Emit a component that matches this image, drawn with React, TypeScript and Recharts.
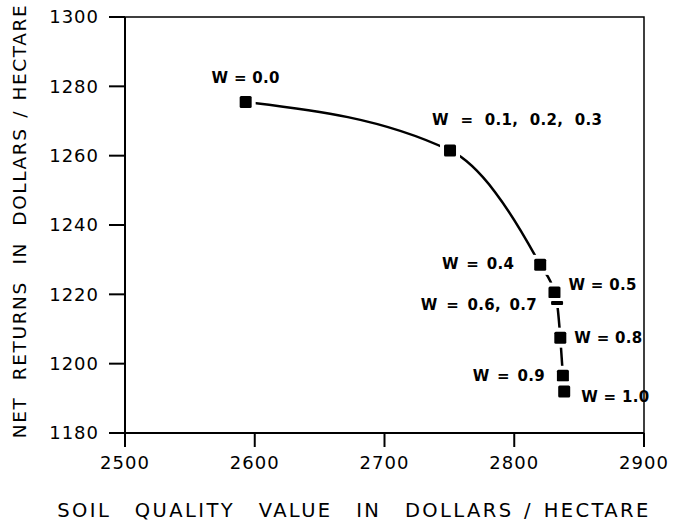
import React from "react";
import {
  ComposedChart, Line, XAxis, YAxis, ReferenceArea, LabelList,
} from "recharts";

// values
const W_LABELS = [
  "W = 0.0", "W = 0.1, 0.2, 0.3", "W = 0.4", "W = 0.5",
  "W = 0.6, 0.7", "W = 0.8", "W = 0.9", "W = 1.0",
];
const SOIL_VALUE = [2593, 2750.5, 2820, 2831, 2833, 2835.5, 2837.5, 2838.5];
const NET_RETURNS = [1275.5, 1261.5, 1228.5, 1220.5, 1217.5, 1207.5, 1196.5, 1192];
const X_TICKS = [2500, 2600, 2700, 2800, 2900];
const Y_TICKS = [1180, 1200, 1220, 1240, 1260, 1280, 1300];

// where each annotation sits relative to its point
const LABEL_OFFSET: { dx: number; dy: number; anchor: "start" | "middle" | "end"; ws: number }[] = [
  { dx: 0, dy: -24, anchor: "middle", ws: 0 },
  { dx: -18, dy: -30, anchor: "start", ws: 6 },
  { dx: -26, dy: -1, anchor: "end", ws: 2 },
  { dx: 14, dy: -8, anchor: "start", ws: 0 },
  { dx: -20, dy: 2, anchor: "end", ws: 3 },
  { dx: 14, dy: 0, anchor: "start", ws: 0 },
  { dx: -18, dy: 0, anchor: "end", ws: 2 },
  { dx: 17, dy: 6, anchor: "start", ws: 0 },
];

const FONT = "'DejaVu Sans', sans-serif";

const data = SOIL_VALUE.map((x, i) => ({ x, y: NET_RETURNS[i], w: W_LABELS[i] }));

function Marker(props: any) {
  const { cx, cy, index } = props;
  if (cx == null || cy == null) return <g key={`m-${index}`} />;
  // W = 0.6, 0.7 is drawn as a small dash in the original
  if (W_LABELS[index].includes("0.6")) {
    return (
      <g key={`m-${index}`}>
        <rect x={cx - 9} y={cy - 5} width={18} height={10} fill="#fff" />
        <rect x={cx - 6} y={cy - 2} width={12} height={4} rx={1} fill="#000" />
      </g>
    );
  }
  return (
    <g key={`m-${index}`}>
      <rect x={cx - 10} y={cy - 10} width={20} height={20} fill="#fff" />
      <rect x={cx - 6} y={cy - 6} width={12} height={12} rx={1.5} fill="#000" />
    </g>
  );
}

function PointLabel(props: any) {
  const { x, y, index, value } = props;
  const o = LABEL_OFFSET[index];
  return (
    <text
      x={x + o.dx}
      y={y + o.dy}
      textAnchor={o.anchor}
      dominantBaseline="central"
      fontFamily={FONT}
      fontSize={15}
      fontWeight={600}
      letterSpacing={0.3}
      wordSpacing={o.ws}
      fill="#000"
    >
      {value}
    </text>
  );
}

export default function App() {
  const tick = { fontFamily: FONT, fontSize: 18, fill: "#000", letterSpacing: 1 };
  return (
    <div style={{ position: "absolute", left: 0, top: 0, background: "#fff" }}>
      <ComposedChart
        width={674}
        height={524}
        data={data}
        margin={{ top: 17, right: 30, left: 0, bottom: 0 }}
      >
        <XAxis
          dataKey="x"
          type="number"
          domain={[2500, 2900]}
          ticks={X_TICKS}
          height={91}
          tickSize={14}
          tickMargin={9}
          tick={tick}
          axisLine={{ stroke: "#000", strokeWidth: 2 }}
          tickLine={{ stroke: "#000", strokeWidth: 2 }}
          label={{
            content: () => (
              <text
                x={354}
                y={510}
                textAnchor="middle"
                dominantBaseline="central"
                fontFamily={FONT}
                fontSize={19.5}
                letterSpacing={2.4}
                fill="#000"
              >
                <tspan wordSpacing={15}>SOIL QUALITY VALUE IN DOLLARS</tspan>
                <tspan wordSpacing={2}> / HECTARE</tspan>
              </text>
            ),
          }}
        />
        <YAxis
          type="number"
          domain={[1180, 1300]}
          ticks={Y_TICKS}
          width={125}
          tickSize={16}
          tickMargin={10}
          tick={tick}
          axisLine={{ stroke: "#000", strokeWidth: 2 }}
          tickLine={{ stroke: "#000", strokeWidth: 2 }}
          label={{
            content: () => (
              <text
                x={19}
                y={221}
                transform="rotate(-90 19 221)"
                textAnchor="middle"
                dominantBaseline="central"
                fontFamily={FONT}
                fontSize={18.5}
                letterSpacing={1.6}
                fill="#000"
              >
                <tspan wordSpacing={9}>NET RETURNS IN DOLLARS</tspan>
                <tspan wordSpacing={2}> / HECTARE</tspan>
              </text>
            ),
          }}
        />
        <ReferenceArea
          x1={2500}
          x2={2900}
          y1={1180}
          y2={1300}
          fill="none"
          stroke="#000"
          strokeWidth={1.5}
        />
        <Line
          dataKey="y"
          type="monotone"
          stroke="#000"
          strokeWidth={2.5}
          dot={Marker}
          activeDot={false}
          isAnimationActive={false}
        >
          <LabelList dataKey="w" content={PointLabel} />
        </Line>
      </ComposedChart>
    </div>
  );
}
